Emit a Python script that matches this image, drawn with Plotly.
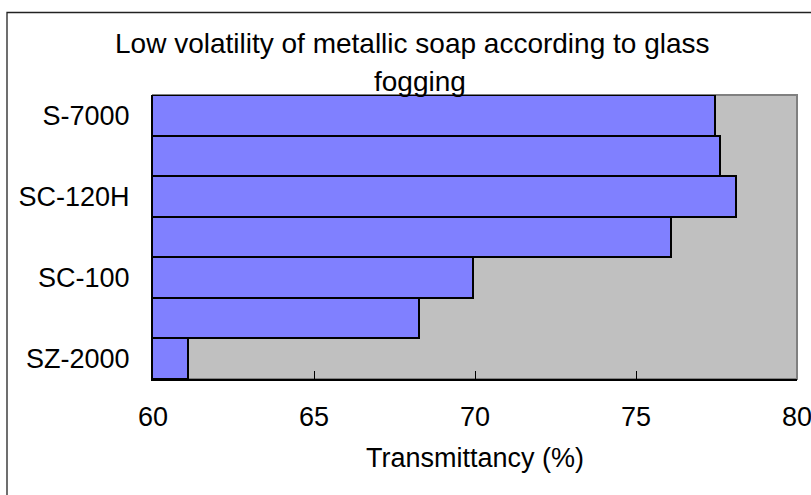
import plotly.graph_objects as go

# Data
categories = ["S-7000", "", "SC-120H", "", "SC-100", "", "SZ-2000"]
values = [77.45, 77.6, 78.1, 76.1, 69.95, 68.25, 61.1]
x_ticks = [60, 65, 70, 75, 80]
title_lines = ["Low volatility of metallic soap according to glass", "fogging"]
x_title = "Transmittancy (%)"

FONT = "Liberation Sans, Arial, sans-serif"
FS = 27
W, H = 811, 495
L, R, T, B = 153, 14, 95, 116
pw, ph = W - L - R, H - T - B

def px(x):
    return (x - L) / pw

def py(y):
    return (H - B - y) / ph

positions = list(range(len(categories)))
tickvals = [p for p, c in zip(positions, categories) if c]
ticktext = [c for c in categories if c]

fig = go.Figure()
fig.add_trace(go.Bar(
    x=values, y=positions, orientation="h",
    marker=dict(color="#8080FF", line=dict(color="black", width=2)),
    width=1.0, hoverinfo="skip",
))

fig.update_layout(
    width=W, height=H,
    margin=dict(l=L, r=R, t=T, b=B, pad=0, autoexpand=False),
    paper_bgcolor="white", plot_bgcolor="#C0C0C0",
    showlegend=False,
    bargap=0,
    font=dict(family=FONT, size=FS, color="black"),
    xaxis=dict(
        range=[60, 80], tickvals=x_ticks, ticks="inside", ticklen=8,
        tickcolor="black", tickwidth=1, showgrid=False, zeroline=False,
        showline=True, linecolor="black", linewidth=2,
        ticklabelstandoff=13, tickfont=dict(size=FS),
        ticklabeloverflow="allow", automargin=False,
    ),
    yaxis=dict(
        range=[6.5, -0.5], tickvals=tickvals, ticktext=ticktext,
        ticks="", showgrid=False, zeroline=False,
        showline=True, linecolor="black", linewidth=2,
        ticklabelstandoff=16, tickfont=dict(size=FS), automargin=False,
    ),
    shapes=[
        dict(type="rect", xref="paper", yref="paper", x0=0, x1=1, y0=0, y1=1,
             line=dict(color="#808080", width=2), layer="below"),
        dict(type="rect", xref="paper", yref="paper",
             x0=px(7), x1=px(830), y0=py(520), y1=py(12.5),
             line=dict(color="#222222", width=1.3), layer="below"),
    ],
    annotations=[
        dict(text=title_lines[0], xref="paper", yref="paper", x=px(412), y=py(44),
             xanchor="center", yanchor="middle", showarrow=False, font=dict(size=28)),
        dict(text=title_lines[1], xref="paper", yref="paper", x=px(420), y=py(81),
             xanchor="center", yanchor="middle", showarrow=False, font=dict(size=28)),
        dict(text=x_title, xref="paper", yref="paper", x=px(474.5), y=py(458),
             xanchor="center", yanchor="middle", showarrow=False, font=dict(size=FS)),
    ],
)

fig.write_html(
    "out.html",
    config={"displayModeBar": False},
    post_script="document.body.style.margin='0';document.body.style.overflow='hidden';",
)
